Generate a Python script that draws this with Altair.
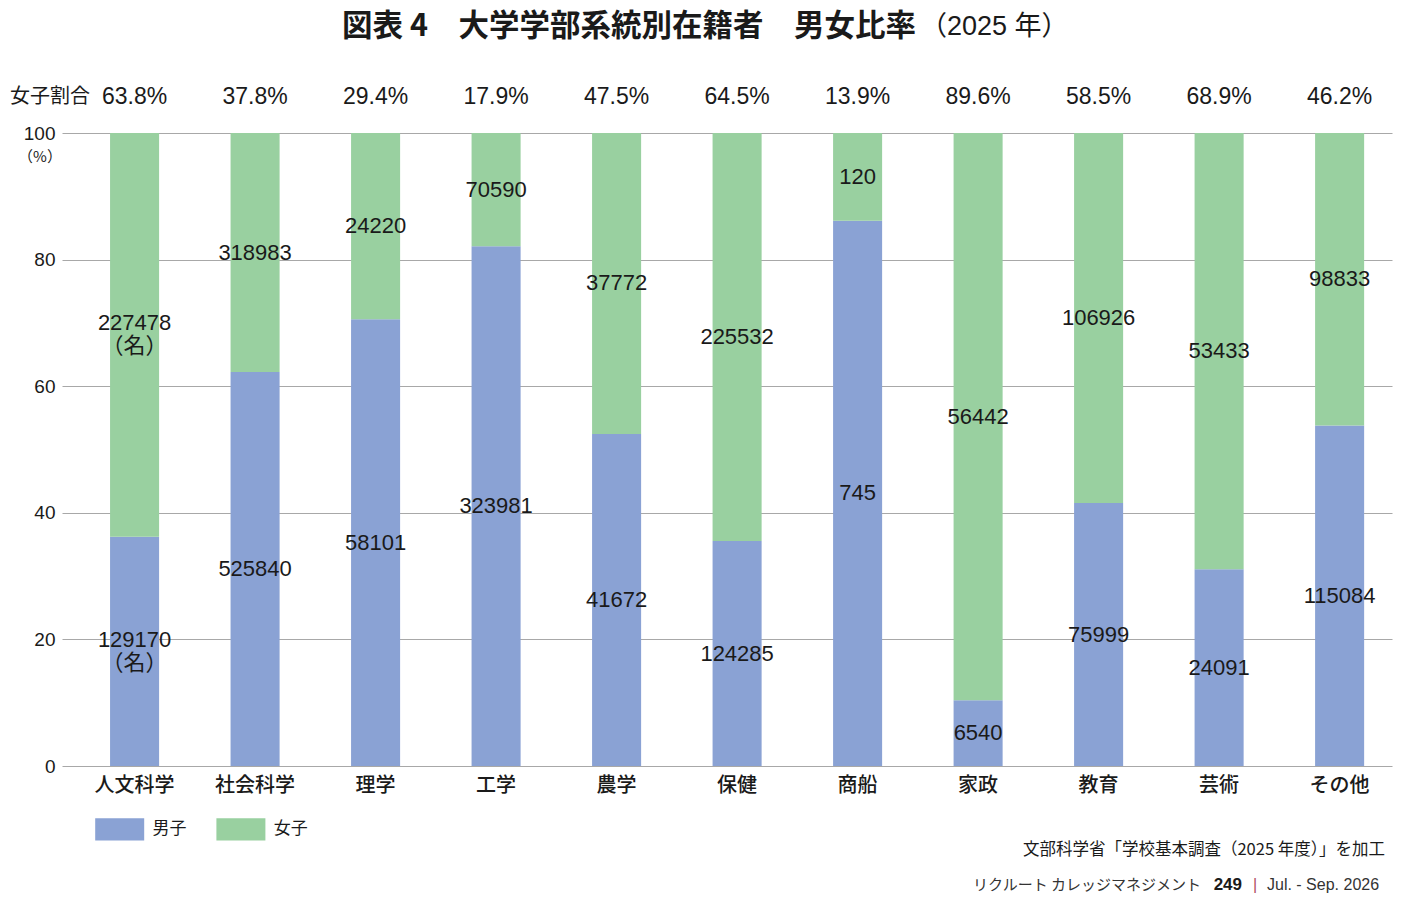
import altair as alt
import pandas as pd

# 学部系統別の在籍者数（名）
categories = ["人文科学", "社会科学", "理学", "工学", "農学", "保健",
              "商船", "家政", "教育", "芸術", "その他"]
male = [129170, 525840, 58101, 323981, 41672, 124285, 745, 6540, 75999, 24091, 115084]
female = [227478, 318983, 24220, 70590, 37772, 225532, 120, 56442, 106926, 53433, 98833]
sexes = ["男子", "女子"]
colors = ["#8aa2d4", "#99d0a0"]
unit_note = "（名）"

rows = []
for i, cat in enumerate(categories):
    for k, (sex, n) in enumerate(zip(sexes, [male[i], female[i]])):
        has_unit = i == 0
        label = str(n) + ("\n" + unit_note if has_unit else "")
        rows.append({"cat": cat, "sex": sex, "ord": k, "n": n,
                     "label": label, "lines": 2 if has_unit else 1})
df = pd.DataFrame(rows)

JP = "Noto Sans CJK JP"
NUM = "Liberation Sans, Noto Sans CJK JP"
INK = "#1a1a1a"
W, H = 1330, 633
LINE_H = 23

xscale = alt.Scale(paddingInner=0.593, paddingOuter=0.315, align=0.633)
yscale = alt.Scale(domain=[0, 1])

x_axis = alt.Axis(labelFontSize=20, labelFont=JP, labelFontWeight=500, labelColor=INK,
                  labelPadding=9, labelAngle=0, domain=False, ticks=False, grid=False)
y_axis = alt.Axis(values=[0, 0.2, 0.4, 0.6, 0.8, 1.0],
                  labelExpr="format(datum.value * 100, 'd')",
                  grid=True, gridColor="#a8a8a8", gridWidth=1,
                  domain=False, ticks=False, labelFont=NUM,
                  labelFontSize=19, labelColor=INK, labelPadding=7)

x_enc = alt.X("cat:N", sort=categories, title=None, scale=xscale, axis=x_axis)

base = alt.Chart(df)

bars = base.mark_bar().encode(
    x=x_enc,
    y=alt.Y("n:Q", stack="normalize", title=None, scale=yscale, axis=y_axis),
    color=alt.Color(
        "sex:N", sort=sexes, scale=alt.Scale(domain=sexes, range=colors),
        legend=alt.Legend(
            orient="none", legendX=35.2, legendY=673.7, direction="horizontal",
            title=None, padding=0, symbolType="M-1.1,-0.5H1.1V0.5H-1.1Z",
            symbolSize=1984, symbolStrokeWidth=0, symbolOpacity=1,
            labelFont=JP, labelFontSize=17, labelColor=INK,
            labelOffset=10.3, columnPadding=29.2,
        ),
    ),
    order=alt.Order("ord:Q", sort="ascending"),
)

# 各区分の人数ラベル（積み上げ区間の中央、複数行は行の塊ごと中央へ）
seg_labels = base.transform_stack(
    stack="n", groupby=["cat"], as_=["y0", "y1"], offset="normalize",
    sort=[alt.SortField("ord", order="ascending")],
).transform_calculate(
    mid=f"(datum.y0 + datum.y1) / 2 + (datum.lines - 1) * {LINE_H} / 2 / {H}"
).mark_text(font=NUM, fontSize=22, color=INK, lineBreak="\n", lineHeight=LINE_H).encode(
    x=x_enc,
    y=alt.Y("mid:Q", title=None, scale=yscale, axis=y_axis),
    text="label:N",
)

# 上段の女子割合
share = base.transform_joinaggregate(
    total="sum(n)", groupby=["cat"]
).transform_filter(
    "datum.sex == '女子'"
).transform_calculate(
    pct="datum.n / datum.total"
).mark_text(font=NUM, fontSize=23, color=INK, y=-36, baseline="middle").encode(
    x=x_enc,
    text=alt.Text("pct:Q", format=".1%"),
)


def note(text, x, y, size, weight="normal", align="left", font=JP, color=INK):
    return alt.Chart(pd.DataFrame({"t": [text]})).mark_text(
        x=x, y=y, fontSize=size, fontWeight=weight, align=align,
        baseline="middle", font=font, color=color,
    ).encode(text="t:N")


notes = [
    note("図表 4　大学学部系統別在籍者　男女比率", 854, -106, 30.5, weight="bold", align="right"),
    note("（2025 年）", 858, -106, 27, font=NUM),
    note("女子割合", -52, -36, 20),
    note("（%）", -22, 24, 15, align="center"),
    note("文部科学省「学校基本調査（2025 年度）」を加工", 1323, 717, 16.5, align="right"),
    note("リクルート カレッジマネジメント", 1139, 752, 15, align="right", color="#333"),
    note("249", 1180, 752, 17, weight="bold", align="right", font=NUM),
    note("|", 1193, 752, 16, align="center", font=NUM, color="#b05060"),
    note("Jul. - Sep. 2026", 1205, 752, 16, font=NUM, color="#333"),
]

chart = alt.layer(bars, seg_labels, share, *notes).properties(
    width=W, height=H,
    background="white",
    autosize=alt.AutoSizeParams(type="none"),
    padding={"left": 62, "top": 133, "right": 18, "bottom": 142},
).configure_view(stroke="transparent", strokeWidth=0)

chart.save("out.html", embed_options={"renderer": "svg", "actions": False})
